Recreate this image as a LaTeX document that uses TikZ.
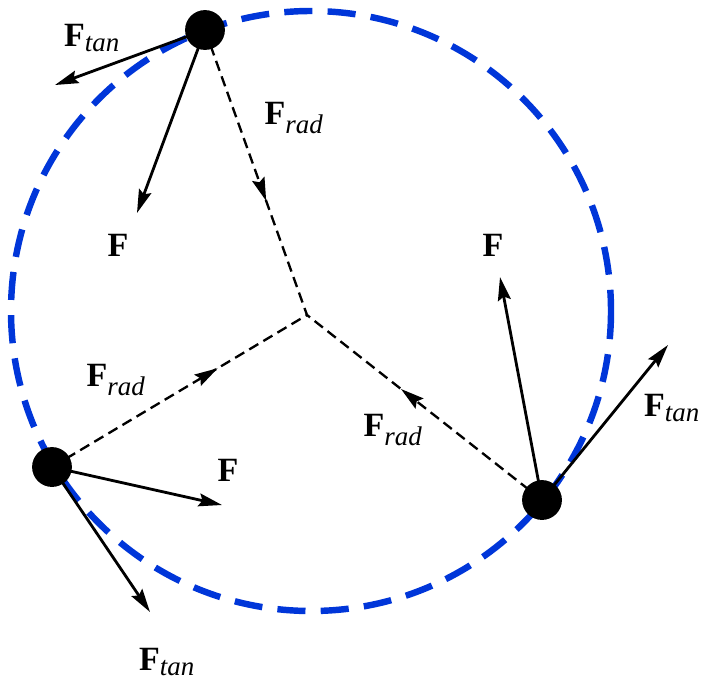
\documentclass[tikz,border=0pt]{standalone}
\usepackage{fontspec}
\setmainfont{Liberation Serif}
\usetikzlibrary{arrows.meta,decorations.markings}

\tikzset{
    force/.style={line width=2.4pt,-{Stealth[length=20pt,width=11pt,inset=3pt]}},
    radial/.style={line width=2pt,dash pattern=on 9pt off 5pt,
        postaction={decorate},
        decoration={markings,mark=at position #1 with {\arrow{Stealth[length=20pt,width=11pt,inset=3pt]}}}},
    mass/.style={circle,fill=black,minimum size=34pt,inner sep=0pt},
    lbl/.style={font=\fontsize{29}{32}\selectfont\bfseries,inner sep=1pt}
}
\newcommand{\sub}[1]{\textsubscript{\fontsize{23}{25}\selectfont\mdseries\itshape #1}}

\begin{document}
\begin{tikzpicture}[x=0.03cm,y=-0.03cm]
        \useasboundingbox (0,0) rectangle (713,696);
    
        % path of the masses
        \draw[blue!75!cyan!85!black,line width=5.5pt,dash pattern=on 24pt off 13pt] (311,311) circle (300);
    
        \coordinate (o) at (307,315);
        \node[mass] (top) at (205,30) {};
        \node[mass] (left) at (52,467) {};
        \node[mass] (right) at (542,500) {};
    
        \coordinate (topT) at (55,85);
        \coordinate (topF) at (137,213);
        \coordinate (leftF) at (222,505);
        \coordinate (leftT) at (150,612);
        \coordinate (rightF) at (500,277);
        \coordinate (rightT) at (668,345);
    
        \draw[radial=0.6] (top.center) -- (o);
        \draw[radial=0.65] (left.center) -- (o);
        \draw[radial=0.6] (right.center) -- (o);
    
        \draw[force] (top.center) -- (topT);
        \draw[force] (top.center) -- (topF);
        \draw[force] (left.center) -- (leftF);
        \draw[force] (left.center) -- (leftT);
        \draw[force] (right.center) -- (rightF);
        \draw[force] (right.center) -- (rightT);
    
        \node[lbl] (l1) at (92,38) {F\sub{tan}};
        \node[lbl] (l2) at (118,245) {F};
        \node[lbl] (l3) at (294,118) {F\sub{rad}};
        \node[lbl] (l4) at (493,245) {F};
        \node[lbl] (l5) at (672,408) {F\sub{tan}};
        \node[lbl] (l6) at (393,430) {F\sub{rad}};
        \node[lbl] (l7) at (116,380) {F\sub{rad}};
        \node[lbl] (l8) at (228,470) {F};
        \node[lbl] (l9) at (167,662) {F\sub{tan}};
    \end{tikzpicture}
\end{document}
